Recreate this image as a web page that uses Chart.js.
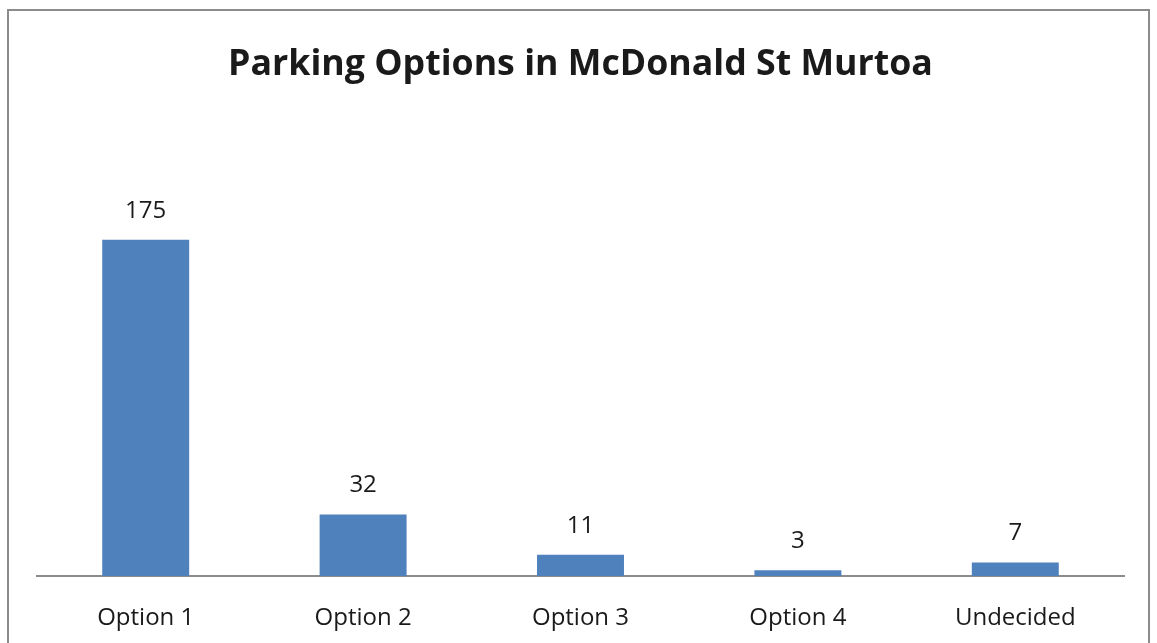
<!DOCTYPE html>
<html>
<head>
<meta charset="utf-8">
<script src="https://cdn.jsdelivr.net/npm/chart.js@4/dist/chart.umd.min.js"></script>
<style>
  html, body { margin: 0; padding: 0; background: #fff; overflow: hidden; }
  #frame {
    position: absolute; left: 7px; top: 9px; width: 1143px; height: 660px;
    border: 2px solid #8c8c8c; box-sizing: border-box;
  }
  #chart { position: absolute; left: 0; top: 0; }
</style>
</head>
<body>
<div id="frame"></div>
<canvas id="chart" width="1157" height="643"></canvas>
<script>
// chart data
let categories = ["Option 1", "Option 2", "Option 3", "Option 4", "Undecided"];
let votes = [175, 32, 11, 3, 7];
let axisMax = 200;

let fontFamily = "'Open Sans', 'Noto Sans', sans-serif";
let textColor = "#1a1a1a";

// draws the value above each bar
let valueLabels = {
  id: "valueLabels",
  afterDatasetsDraw(chart) {
    let ctx = chart.ctx;
    let meta = chart.getDatasetMeta(0);
    ctx.save();
    ctx.font = "24px " + fontFamily;
    ctx.fillStyle = textColor;
    ctx.textAlign = "center";
    ctx.textBaseline = "middle";
    meta.data.forEach((bar, i) => {
      ctx.fillText(String(votes[i]), bar.x, bar.y - 29);
    });
    ctx.restore();
  }
};

let ctx = document.getElementById("chart").getContext("2d");
let myChart = new Chart(ctx, {
  type: "bar",
  data: {
    labels: categories,
    datasets: [{
      data: votes,
      backgroundColor: "#4F81BD",
      categoryPercentage: 1.0,
      barPercentage: 0.4
    }]
  },
  options: {
    responsive: false,
    animation: false,
    devicePixelRatio: 1,
    layout: { padding: { left: 37, right: 33, top: 0, bottom: 0 } },
    plugins: {
      legend: { display: false },
      tooltip: { enabled: false },
      title: {
        display: true,
        text: "Parking Options in McDonald St Murtoa",
        color: textColor,
        font: { family: fontFamily, size: 35.7, weight: "bold" },
        padding: { top: 43, bottom: 106 }
      }
    },
    scales: {
      x: {
        grid: { display: false, drawTicks: false },
        border: { display: true, color: "#8c8c8c", width: 2 },
        ticks: {
          color: textColor,
          font: { family: fontFamily, size: 24 },
          padding: 28,
          maxRotation: 0
        },
        afterFit: scale => { scale.height = 67; }
      },
      y: {
        display: false,
        min: 0,
        max: axisMax
      }
    }
  },
  plugins: [valueLabels]
});
</script>
</body>
</html>
